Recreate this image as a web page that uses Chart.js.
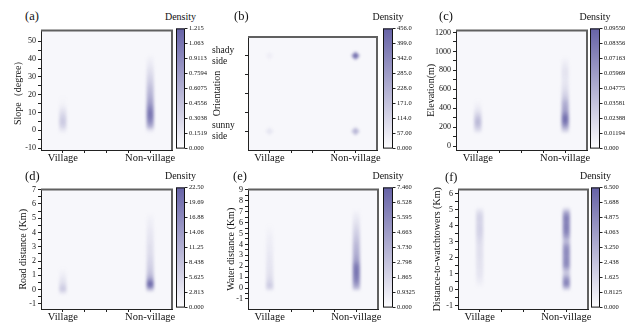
<!DOCTYPE html>
<html>
<head>
<meta charset="utf-8">
<script src="https://cdn.jsdelivr.net/npm/chart.js@4.4.1/dist/chart.umd.min.js"></script>
<style>
  body { margin: 0; width: 636px; height: 326px; position: relative; overflow: hidden; background: #fff;
         font-family: 'Liberation Serif', 'Times New Roman', serif; color: #111; }
  canvas { position: absolute; }
  .panel { position: absolute; font-size: 12.5px; line-height: 1; }
  .dens { position: absolute; font-size: 10px; line-height: 1; transform: translateX(-50%); }
</style>
</head>
<body>
<script>
const categories = ['Village', 'Non-village'];

// (a) slope
const slopeLevels = [-2, 0, 2, 4, 6, 8, 10, 12, 14, 16, 20, 24, 28, 32, 36, 40, 43];
const slopeVillage = [0, 0.10, 0.26, 0.36, 0.36, 0.28, 0.20, 0.12, 0.05, 0.02, 0, 0, 0, 0, 0, 0, 0];
const slopeNonVillage = [0, 0.12, 0.55, 0.80, 0.95, 1.05, 1.05, 0.95, 0.82, 0.70, 0.55, 0.45, 0.32, 0.22, 0.12, 0.05, 0];
const slopeTicks = [-10, 0, 10, 20, 30, 40, 50];
const slopeBar = ['0.000', '0.1519', '0.3038', '0.4556', '0.6075', '0.7594', '0.9113', '1.063', '1.215'];

// (b) orientation: [village, non-village] at sunny (0) and shady (1)
const orientSunny = [50, 200];
const orientShady = [25, 420];
const orientBar = ['0.000', '57.00', '114.0', '171.0', '228.0', '285.0', '342.0', '399.0', '456.0'];

// (c) elevation
const elevLevels = [130, 180, 220, 260, 300, 340, 380, 420, 460, 500, 550, 600, 650, 700, 750, 800, 850, 900, 950];
const elevVillage = [0, 0.022, 0.035, 0.040, 0.032, 0.020, 0.010, 0.005, 0.002, 0, 0, 0, 0, 0, 0, 0, 0, 0, 0];
const elevNonVillage = [0, 0.035, 0.065, 0.085, 0.088, 0.070, 0.055, 0.050, 0.045, 0.032, 0.022, 0.016, 0.012, 0.010, 0.012, 0.012, 0.008, 0.004, 0];
const elevTicks = [0, 200, 400, 600, 800, 1000, 1200];
const elevBar = ['0.000', '0.01194', '0.02388', '0.03581', '0.04775', '0.05969', '0.07163', '0.08356', '0.09550'];

// (d) road distance
const roadLevels = [-0.4, -0.2, 0, 0.2, 0.4, 0.6, 0.8, 1.0, 1.3, 1.6, 2.0, 2.5, 3.0, 3.5, 4.0, 4.5, 5.0, 5.4];
const roadVillage = [0, 3, 7, 6, 4, 3, 2, 1.2, 0.5, 0, 0, 0, 0, 0, 0, 0, 0, 0];
const roadNonVillage = [0, 0, 8, 18, 22, 17, 12, 9, 7, 6, 5, 4, 3.5, 2.8, 2.2, 1.5, 0.8, 0];
const roadTicks = [-1, 0, 1, 2, 3, 4, 5, 6, 7];
const roadBar = ['0.000', '2.813', '5.625', '8.438', '11.25', '14.06', '16.88', '19.69', '22.50'];

// (e) water distance
const waterLevels = [-0.3, 0, 0.3, 0.6, 1.0, 1.5, 2.0, 2.5, 3.0, 3.5, 4.0, 4.5, 5.0, 5.5, 6.0, 6.5, 7.0, 7.3];
const waterVillage = [0, 1.8, 2.2, 1.6, 1.2, 1.0, 0.9, 0.8, 0.7, 0.6, 0.5, 0.4, 0.25, 0.1, 0, 0, 0, 0];
const waterNonVillage = [0, 3.0, 4.5, 5.5, 6.2, 6.5, 6.2, 4.5, 3.8, 3.4, 3.0, 2.5, 2.0, 1.5, 1.0, 0.6, 0.2, 0];
const waterTicks = [-1, 0, 1, 2, 3, 4, 5, 6, 7, 8, 9];
const waterBar = ['0.000', '0.9325', '1.865', '2.798', '3.730', '4.663', '5.595', '6.528', '7.460'];

// (f) distance to watchtowers
const towerLevels = [-0.1, 0.1, 0.3, 0.5, 0.7, 0.9, 1.1, 1.3, 1.5, 1.8, 2.1, 2.4, 2.7, 2.9, 3.1, 3.3, 3.6, 3.9, 4.2, 4.5, 4.8, 5.0, 5.2];
const towerVillage = [0, 0, 0.2, 0.4, 0.6, 0.7, 0.8, 0.8, 0.9, 0.9, 1.0, 1.0, 1.0, 1.1, 1.2, 1.4, 1.6, 1.6, 1.5, 1.6, 1.2, 0.5, 0];
const towerNonVillage = [0, 2.5, 4.8, 5.0, 4.0, 2.5, 2.0, 3.2, 4.6, 4.8, 4.6, 4.8, 4.2, 3.0, 2.6, 3.8, 5.0, 5.2, 5.0, 5.2, 3.8, 1.5, 0];
const towerTicks = [-1, 0, 1, 2, 3, 4, 5, 6];
const towerBar = ['0.000', '0.8125', '1.625', '2.438', '3.250', '4.063', '4.875', '5.688', '6.500'];

const FONT = "'Liberation Serif', 'Times New Roman', serif";
const MAXC = [102, 98, 166];
Chart.defaults.font.family = FONT;
Chart.defaults.color = '#111';

function tint(a) {
  a = Math.max(0, Math.min(1, a));
  return 'rgba(' + MAXC.join(',') + ',' + a.toFixed(3) + ')';
}

function mkCanvas(x, y, w, h) {
  const c = document.createElement('canvas');
  c.width = w; c.height = h;
  c.style.left = x + 'px'; c.style.top = y + 'px';
  c.style.width = w + 'px'; c.style.height = h + 'px';
  document.body.appendChild(c);
  return c;
}

function addText(cls, txt, x, y) {
  const d = document.createElement('div');
  d.className = cls; d.textContent = txt;
  d.style.left = x + 'px'; d.style.top = y + 'px';
  document.body.appendChild(d);
}

const framePlugin = {
  id: 'frame',
  beforeDraw(chart) {
    const { ctx, chartArea: a } = chart;
    ctx.save();
    ctx.fillStyle = '#f7f7fb';
    ctx.fillRect(a.left, a.top, a.right - a.left, a.bottom - a.top);
    ctx.restore();
  },
  afterDraw(chart) {
    const { ctx, chartArea: a } = chart;
    ctx.save();
    ctx.strokeStyle = '#606060';
    ctx.lineWidth = 2;
    ctx.beginPath();
    ctx.moveTo(a.left, a.top);
    ctx.lineTo(a.right, a.top);
    ctx.lineTo(a.right, a.bottom);
    ctx.stroke();
    ctx.restore();
  }
};

const blurPlugin = {
  id: 'soft',
  beforeDatasetsDraw(chart) { chart.ctx.save(); chart.ctx.filter = 'blur(1.8px)'; },
  afterDatasetsDraw(chart) { chart.ctx.restore(); }
};

// one vertical density column, coloured by a gradient built on the y scale
function column(levels, dens, pos, vmax) {
  return {
    data: levels.map(y => ({ x: pos, y: y })),
    showLine: true,
    pointRadius: 0,
    borderWidth: 7,
    borderCapStyle: 'butt',
    borderColor: (c) => {
      const chart = c.chart;
      if (!chart.chartArea) return 'transparent';
      const ys = chart.scales.y;
      const p0 = ys.getPixelForValue(levels[0]);
      const p1 = ys.getPixelForValue(levels[levels.length - 1]);
      const g = chart.ctx.createLinearGradient(0, p0, 0, p1);
      levels.forEach((y, i) => {
        const f = (ys.getPixelForValue(y) - p0) / (p1 - p0);
        g.addColorStop(Math.max(0, Math.min(1, f)), tint(dens[i] / vmax));
      });
      return g;
    }
  };
}

function heatChart(p) {
  const left = Math.round(p.titleX - 5);
  const top = p.T - 3;
  const cv = mkCanvas(left, top, p.R - left + 3, p.B - top + 20);
  const yw = p.L - left;
  const minors = [];
  for (let i = 0; i < p.yTicks.length - 1; i++) minors.push((p.yTicks[i] + p.yTicks[i + 1]) / 2);
  const all = p.yTicks.concat(minors).sort((a, b) => a - b);

  new Chart(cv, {
    type: 'scatter',
    data: { datasets: p.datasets },
    options: {
      responsive: false,
      animation: false,
      devicePixelRatio: 1,
      layout: { padding: { top: 3, right: 3, left: 0, bottom: 0 } },
      plugins: { legend: { display: false }, tooltip: { enabled: false } },
      scales: {
        x: {
          type: 'linear', min: 0.75, max: 2.25,
          afterFit(s) { s.height = 20; },
          afterBuildTicks(s) { s.ticks = [1, 1.25, 1.5, 1.75, 2].map(v => ({ value: v })); },
          ticks: {
            autoSkip: false, maxRotation: 0, padding: -1,
            font: { size: 10.5 },
            callback: v => v === 1 ? categories[0] : (v === 2 ? categories[1] : '')
          },
          grid: { drawOnChartArea: false, tickLength: 3, tickColor: '#222' },
          border: { color: '#222', width: 1 }
        },
        y: {
          min: p.yMin, max: p.yMax,
          afterFit(s) { s.width = yw; },
          afterBuildTicks(s) { s.ticks = (p.yLabels ? p.yAll : all).map(v => ({ value: v })); },
          ticks: {
            autoSkip: false, padding: 2,
            crossAlign: p.yLabels ? 'far' : 'near',
            font: { size: p.yLabels ? 9.5 : 8, lineHeight: 1.15 },
            callback: v => p.yLabels ? (p.yLabels[v] || '') : (p.yTicks.includes(v) ? String(v) : '')
          },
          grid: { drawOnChartArea: false, tickLength: 3, tickColor: '#222' },
          border: { color: '#222', width: 1 },
          title: { display: true, text: p.yTitle, padding: 0, font: { size: 10, lineHeight: 1 } }
        }
      }
    },
    plugins: [framePlugin, blurPlugin]
  });
}

const cbFrame = {
  id: 'cbframe',
  afterDraw(chart) {
    const { ctx, chartArea: a } = chart;
    ctx.save();
    ctx.strokeStyle = '#111';
    ctx.lineWidth = 1;
    ctx.strokeRect(a.left + 0.5, a.top + 0.5, a.right - a.left - 1, a.bottom - a.top - 1);
    ctx.restore();
  }
};

function colorBar(p) {
  const cv = mkCanvas(p.cbL, p.T - 4, p.cbR - p.cbL + 36, p.B - p.T + 8);
  new Chart(cv, {
    type: 'bar',
    data: {
      labels: [''],
      datasets: [{
        data: [p.vmax],
        barPercentage: 1, categoryPercentage: 1, borderWidth: 0,
        backgroundColor: (c) => {
          const chart = c.chart;
          const a = chart.chartArea;
          if (!a) return 'transparent';
          const g = chart.ctx.createLinearGradient(0, a.bottom, 0, a.top);
          g.addColorStop(0, '#fdfdfe');
          g.addColorStop(1, 'rgb(' + MAXC.join(',') + ')');
          return g;
        }
      }]
    },
    options: {
      responsive: false,
      animation: false,
      devicePixelRatio: 1,
      layout: { padding: { top: 4, bottom: 4, left: 0, right: 0 } },
      plugins: { legend: { display: false }, tooltip: { enabled: false } },
      scales: {
        x: { display: false },
        y: {
          position: 'right', min: 0, max: p.vmax,
          afterFit(s) { s.width = 36; },
          afterBuildTicks(s) { s.ticks = p.bar.map((_, i) => ({ value: p.vmax * i / 8 })); },
          ticks: { autoSkip: false, padding: 1.5, font: { size: 6.5 }, callback: (v, i) => p.bar[i] },
          grid: { drawOnChartArea: false, tickLength: 2.5, tickColor: '#222' },
          border: { display: false }
        }
      }
    },
    plugins: [cbFrame]
  });
}

const panels = [
  { tag: '(a)', lx: 25, ly: 10, L: 41, R: 172, T: 27, B: 150, cbL: 176, cbR: 185, titleX: 18,
    yMin: -11, yMax: 56, yTicks: slopeTicks, yTitle: 'Slope（degree）', vmax: 1.215, bar: slopeBar,
    datasets: [column(slopeLevels, slopeVillage, 1, 1.215), column(slopeLevels, slopeNonVillage, 2, 1.215)] },
  { tag: '(b)', lx: 234, ly: 10, L: 248, R: 378, T: 27, B: 150, cbL: 383, cbR: 393, titleX: 217,
    yMin: -0.25, yMax: 1.25, yTicks: [0, 1], yAll: [0, 0.25, 0.5, 0.75, 1],
    yLabels: { 0: ['sunny', 'side'], 1: ['shady', 'side'] },
    yTitle: 'Orientation', vmax: 456, bar: orientBar,
    datasets: [{
      data: [
        { x: 1, y: 0, v: orientSunny[0] }, { x: 2, y: 0, v: orientSunny[1] },
        { x: 1, y: 1, v: orientShady[0] }, { x: 2, y: 1, v: orientShady[1] }
      ],
      pointRadius: 4, pointStyle: 'rectRot', borderWidth: 0,
      backgroundColor: c => c.raw ? tint(c.raw.v / 456) : 'transparent'
    }] },
  { tag: '(c)', lx: 439, ly: 10, L: 456, R: 587, T: 27, B: 150, cbL: 590, cbR: 600, titleX: 431,
    yMin: -41, yMax: 1220, yTicks: elevTicks, yTitle: 'Elevation(m)', vmax: 0.0955, bar: elevBar,
    datasets: [column(elevLevels, elevVillage, 1, 0.0955), column(elevLevels, elevNonVillage, 2, 0.0955)] },
  { tag: '(d)', lx: 25, ly: 170, L: 41, R: 172, T: 186, B: 309, cbL: 176, cbR: 185, titleX: 23,
    yMin: -1.36, yMax: 7, yTicks: roadTicks, yTitle: 'Road distance (Km)', vmax: 22.5, bar: roadBar,
    datasets: [column(roadLevels, roadVillage, 1, 22.5), column(roadLevels, roadNonVillage, 2, 22.5)] },
  { tag: '(e)', lx: 233, ly: 170, L: 248, R: 378, T: 186, B: 309, cbL: 383, cbR: 393, titleX: 231,
    yMin: -1.92, yMax: 9.03, yTicks: waterTicks, yTitle: 'Water distance (Km)', vmax: 7.46, bar: waterBar,
    datasets: [column(waterLevels, waterVillage, 1, 7.46), column(waterLevels, waterNonVillage, 2, 7.46)] },
  { tag: '(f)', lx: 445, ly: 171, L: 458, R: 588, T: 186, B: 309, cbL: 591, cbR: 600, titleX: 437,
    yMin: -1.22, yMax: 6.26, yTicks: towerTicks, yTitle: 'Distance-to-watchtowers (Km)', vmax: 6.5, bar: towerBar,
    datasets: [column(towerLevels, towerVillage, 1, 6.5), column(towerLevels, towerNonVillage, 2, 6.5)] }
];

panels.forEach(p => {
  heatChart(p);
  colorBar(p);
  addText('panel', p.tag, p.lx, p.ly);
  addText('dens', 'Density', (p.cbL + p.cbR) / 2, p.T - 15);
});
</script>
</body>
</html>
